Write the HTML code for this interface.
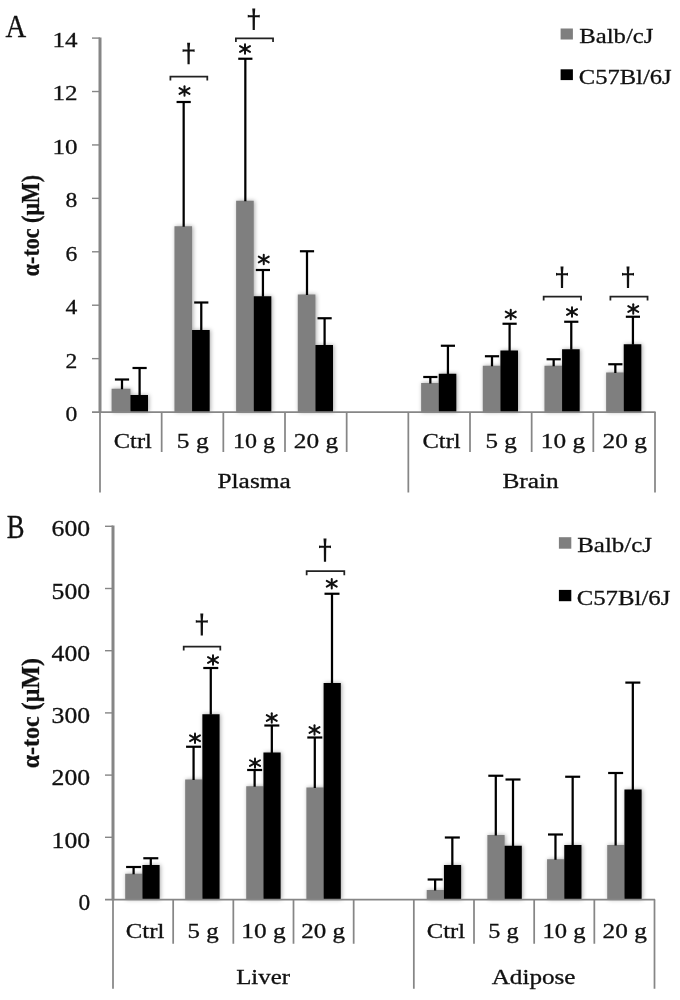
<!DOCTYPE html>
<html><head><meta charset="utf-8"><title>chart</title>
<style>
html,body{margin:0;padding:0;background:#fff;}
body{width:680px;height:1000px;overflow:hidden;}
svg{display:block;font-family:"Liberation Serif",serif;will-change:transform;transform:translateZ(0);}
.bars{filter:drop-shadow(1.4px 0.8px 2.1px rgba(0,0,0,0.34));}
</style></head><body>
<svg width="680" height="1000" viewBox="0 0 680 1000">
<rect x="0" y="0" width="680" height="1000" fill="#ffffff"/>
<g class="bars">
<rect x="111.6" y="388.75" width="18.8" height="23.3" fill="#7f7f7f"/>
<rect x="130.4" y="395" width="17.6" height="17.05" fill="#000000"/>
<rect x="174.47" y="226.25" width="17.6" height="185.8" fill="#7f7f7f"/>
<rect x="192.07" y="330" width="17.6" height="82.05" fill="#000000"/>
<rect x="236.13" y="200.75" width="17.6" height="211.3" fill="#7f7f7f"/>
<rect x="253.73" y="296.25" width="17.6" height="115.8" fill="#000000"/>
<rect x="297.8" y="294.5" width="17.6" height="117.55" fill="#7f7f7f"/>
<rect x="315.4" y="345" width="17.6" height="67.05" fill="#000000"/>
<rect x="421.13" y="383" width="17.6" height="29.05" fill="#7f7f7f"/>
<rect x="438.73" y="373.75" width="17.6" height="38.3" fill="#000000"/>
<rect x="482.8" y="365.75" width="17.6" height="46.3" fill="#7f7f7f"/>
<rect x="500.4" y="350.5" width="17.6" height="61.55" fill="#000000"/>
<rect x="544.47" y="365.75" width="17.6" height="46.3" fill="#7f7f7f"/>
<rect x="562.07" y="349.25" width="17.6" height="62.8" fill="#000000"/>
<rect x="606.13" y="372.5" width="17.6" height="39.55" fill="#7f7f7f"/>
<rect x="623.73" y="344.25" width="17.6" height="67.8" fill="#000000"/>
</g>
<line x1="122" y1="379.5" x2="122" y2="389.25" stroke="#000000" stroke-width="2.25" stroke-linecap="butt"/>
<line x1="114.9" y1="379.5" x2="129.1" y2="379.5" stroke="#000000" stroke-width="2.2" stroke-linecap="butt"/>
<line x1="139.6" y1="368" x2="139.6" y2="395.5" stroke="#000000" stroke-width="2.25" stroke-linecap="butt"/>
<line x1="132.5" y1="368" x2="146.7" y2="368" stroke="#000000" stroke-width="2.2" stroke-linecap="butt"/>
<line x1="183.67" y1="102" x2="183.67" y2="226.75" stroke="#000000" stroke-width="2.25" stroke-linecap="butt"/>
<line x1="176.57" y1="102" x2="190.77" y2="102" stroke="#000000" stroke-width="2.2" stroke-linecap="butt"/>
<line x1="201.27" y1="302.5" x2="201.27" y2="330.5" stroke="#000000" stroke-width="2.25" stroke-linecap="butt"/>
<line x1="194.17" y1="302.5" x2="208.37" y2="302.5" stroke="#000000" stroke-width="2.2" stroke-linecap="butt"/>
<line x1="245.33" y1="58.75" x2="245.33" y2="201.25" stroke="#000000" stroke-width="2.25" stroke-linecap="butt"/>
<line x1="238.23" y1="58.75" x2="252.43" y2="58.75" stroke="#000000" stroke-width="2.2" stroke-linecap="butt"/>
<line x1="262.93" y1="270" x2="262.93" y2="296.75" stroke="#000000" stroke-width="2.25" stroke-linecap="butt"/>
<line x1="255.83" y1="270" x2="270.03" y2="270" stroke="#000000" stroke-width="2.2" stroke-linecap="butt"/>
<line x1="307" y1="251.25" x2="307" y2="295" stroke="#000000" stroke-width="2.25" stroke-linecap="butt"/>
<line x1="299.9" y1="251.25" x2="314.1" y2="251.25" stroke="#000000" stroke-width="2.2" stroke-linecap="butt"/>
<line x1="324.6" y1="318.25" x2="324.6" y2="345.5" stroke="#000000" stroke-width="2.25" stroke-linecap="butt"/>
<line x1="317.5" y1="318.25" x2="331.7" y2="318.25" stroke="#000000" stroke-width="2.2" stroke-linecap="butt"/>
<line x1="430.33" y1="377" x2="430.33" y2="383.5" stroke="#000000" stroke-width="2.25" stroke-linecap="butt"/>
<line x1="423.23" y1="377" x2="437.43" y2="377" stroke="#000000" stroke-width="2.2" stroke-linecap="butt"/>
<line x1="447.93" y1="345.75" x2="447.93" y2="374.25" stroke="#000000" stroke-width="2.25" stroke-linecap="butt"/>
<line x1="440.83" y1="345.75" x2="455.03" y2="345.75" stroke="#000000" stroke-width="2.2" stroke-linecap="butt"/>
<line x1="492" y1="356.25" x2="492" y2="366.25" stroke="#000000" stroke-width="2.25" stroke-linecap="butt"/>
<line x1="484.9" y1="356.25" x2="499.1" y2="356.25" stroke="#000000" stroke-width="2.2" stroke-linecap="butt"/>
<line x1="509.6" y1="323.75" x2="509.6" y2="351" stroke="#000000" stroke-width="2.25" stroke-linecap="butt"/>
<line x1="502.5" y1="323.75" x2="516.7" y2="323.75" stroke="#000000" stroke-width="2.2" stroke-linecap="butt"/>
<line x1="553.67" y1="359.25" x2="553.67" y2="366.25" stroke="#000000" stroke-width="2.25" stroke-linecap="butt"/>
<line x1="546.57" y1="359.25" x2="560.77" y2="359.25" stroke="#000000" stroke-width="2.2" stroke-linecap="butt"/>
<line x1="571.27" y1="321.75" x2="571.27" y2="349.75" stroke="#000000" stroke-width="2.25" stroke-linecap="butt"/>
<line x1="564.17" y1="321.75" x2="578.37" y2="321.75" stroke="#000000" stroke-width="2.2" stroke-linecap="butt"/>
<line x1="615.33" y1="364.25" x2="615.33" y2="373" stroke="#000000" stroke-width="2.25" stroke-linecap="butt"/>
<line x1="608.23" y1="364.25" x2="622.43" y2="364.25" stroke="#000000" stroke-width="2.2" stroke-linecap="butt"/>
<line x1="632.93" y1="316.75" x2="632.93" y2="344.75" stroke="#000000" stroke-width="2.25" stroke-linecap="butt"/>
<line x1="625.83" y1="316.75" x2="640.03" y2="316.75" stroke="#000000" stroke-width="2.2" stroke-linecap="butt"/>
<line x1="100" y1="37.4" x2="100" y2="412.75" stroke="#868686" stroke-width="3" stroke-linecap="butt"/>
<line x1="100" y1="412.05" x2="100" y2="492.5" stroke="#868686" stroke-width="1.75" stroke-linecap="butt"/>
<line x1="92" y1="412.05" x2="655.6" y2="412.05" stroke="#868686" stroke-width="1.75" stroke-linecap="butt"/>
<line x1="92" y1="358.63" x2="100" y2="358.63" stroke="#868686" stroke-width="1.4" stroke-linecap="butt"/>
<line x1="92" y1="305.21" x2="100" y2="305.21" stroke="#868686" stroke-width="1.4" stroke-linecap="butt"/>
<line x1="92" y1="251.79" x2="100" y2="251.79" stroke="#868686" stroke-width="1.4" stroke-linecap="butt"/>
<line x1="92" y1="198.36" x2="100" y2="198.36" stroke="#868686" stroke-width="1.4" stroke-linecap="butt"/>
<line x1="92" y1="144.94" x2="100" y2="144.94" stroke="#868686" stroke-width="1.4" stroke-linecap="butt"/>
<line x1="92" y1="91.52" x2="100" y2="91.52" stroke="#868686" stroke-width="1.4" stroke-linecap="butt"/>
<line x1="92" y1="38.1" x2="100" y2="38.1" stroke="#868686" stroke-width="1.4" stroke-linecap="butt"/>
<line x1="161.67" y1="412.05" x2="161.67" y2="452" stroke="#868686" stroke-width="1.75" stroke-linecap="butt"/>
<line x1="223.33" y1="412.05" x2="223.33" y2="452" stroke="#868686" stroke-width="1.75" stroke-linecap="butt"/>
<line x1="285" y1="412.05" x2="285" y2="452" stroke="#868686" stroke-width="1.75" stroke-linecap="butt"/>
<line x1="346.67" y1="412.05" x2="346.67" y2="452" stroke="#868686" stroke-width="1.75" stroke-linecap="butt"/>
<line x1="408.33" y1="412.05" x2="408.33" y2="492.5" stroke="#868686" stroke-width="1.75" stroke-linecap="butt"/>
<line x1="470" y1="412.05" x2="470" y2="452" stroke="#868686" stroke-width="1.75" stroke-linecap="butt"/>
<line x1="531.67" y1="412.05" x2="531.67" y2="452" stroke="#868686" stroke-width="1.75" stroke-linecap="butt"/>
<line x1="593.33" y1="412.05" x2="593.33" y2="452" stroke="#868686" stroke-width="1.75" stroke-linecap="butt"/>
<line x1="655" y1="412.05" x2="655" y2="492.5" stroke="#868686" stroke-width="1.75" stroke-linecap="butt"/>
<text x="65.6" y="421.1" font-size="21.5" fill="#111" stroke="#111" stroke-width="0.3" textLength="11.8" lengthAdjust="spacingAndGlyphs">0</text>
<text x="65.6" y="367.6" font-size="21.5" fill="#111" stroke="#111" stroke-width="0.3" textLength="11.8" lengthAdjust="spacingAndGlyphs">2</text>
<text x="65.6" y="314.1" font-size="21.5" fill="#111" stroke="#111" stroke-width="0.3" textLength="11.8" lengthAdjust="spacingAndGlyphs">4</text>
<text x="65.6" y="260.6" font-size="21.5" fill="#111" stroke="#111" stroke-width="0.3" textLength="11.8" lengthAdjust="spacingAndGlyphs">6</text>
<text x="65.6" y="207.1" font-size="21.5" fill="#111" stroke="#111" stroke-width="0.3" textLength="11.8" lengthAdjust="spacingAndGlyphs">8</text>
<text x="52.4" y="153.6" font-size="21.5" fill="#111" stroke="#111" stroke-width="0.3" textLength="25" lengthAdjust="spacingAndGlyphs">10</text>
<text x="52.4" y="100.1" font-size="21.5" fill="#111" stroke="#111" stroke-width="0.3" textLength="25" lengthAdjust="spacingAndGlyphs">12</text>
<text x="52.4" y="46.6" font-size="21.5" fill="#111" stroke="#111" stroke-width="0.3" textLength="25" lengthAdjust="spacingAndGlyphs">14</text>
<text x="113.8" y="447.5" font-size="20.5" fill="#111" stroke="#111" stroke-width="0.3" textLength="38.05" lengthAdjust="spacingAndGlyphs">Ctrl</text>
<text x="176.8" y="447.5" font-size="20.5" fill="#111" stroke="#111" stroke-width="0.3" textLength="31.8" lengthAdjust="spacingAndGlyphs">5 g</text>
<text x="233.05" y="447.5" font-size="20.5" fill="#111" stroke="#111" stroke-width="0.3" textLength="42.05" lengthAdjust="spacingAndGlyphs">10 g</text>
<text x="293.8" y="447.5" font-size="20.5" fill="#111" stroke="#111" stroke-width="0.3" textLength="44.3" lengthAdjust="spacingAndGlyphs">20 g</text>
<text x="422.55" y="447.5" font-size="20.5" fill="#111" stroke="#111" stroke-width="0.3" textLength="38.05" lengthAdjust="spacingAndGlyphs">Ctrl</text>
<text x="485.55" y="447.5" font-size="20.5" fill="#111" stroke="#111" stroke-width="0.3" textLength="31.3" lengthAdjust="spacingAndGlyphs">5 g</text>
<text x="540.8" y="447.5" font-size="20.5" fill="#111" stroke="#111" stroke-width="0.3" textLength="44.3" lengthAdjust="spacingAndGlyphs">10 g</text>
<text x="602.55" y="447.5" font-size="20.5" fill="#111" stroke="#111" stroke-width="0.3" textLength="44.3" lengthAdjust="spacingAndGlyphs">20 g</text>
<text x="217.45" y="487.5" font-size="20.5" fill="#111" stroke="#111" stroke-width="0.3" textLength="73.35" lengthAdjust="spacingAndGlyphs">Plasma</text>
<text x="502.45" y="487.5" font-size="20.5" fill="#111" stroke="#111" stroke-width="0.3" textLength="56.35" lengthAdjust="spacingAndGlyphs">Brain</text>
<text x="5.6" y="37" font-size="31" fill="#111" stroke="#111" stroke-width="0.3" textLength="20.7" lengthAdjust="spacingAndGlyphs">A</text>
<text transform="translate(38.8,276.2) rotate(-90)" x="0" y="0" font-size="24.5" font-weight="bold" fill="#111" stroke="#111" stroke-width="0.3" textLength="101.2" lengthAdjust="spacingAndGlyphs">α-toc (μM)</text>
<rect x="560.6" y="28.5" width="12.3" height="11" fill="#7f7f7f"/>
<rect x="560.6" y="69.3" width="12.3" height="10.8" fill="#000000"/>
<text x="579.2" y="42.5" font-size="22" fill="#111" stroke="#111" stroke-width="0.3" textLength="74.2" lengthAdjust="spacingAndGlyphs">Balb/cJ</text>
<text x="578.8" y="83.7" font-size="22" fill="#111" stroke="#111" stroke-width="0.3" textLength="92.8" lengthAdjust="spacingAndGlyphs">C57Bl/6J</text>
<line x1="184.5" y1="86.3" x2="184.5" y2="95.7" stroke="#111" stroke-width="2" stroke-linecap="round"/>
<line x1="179.5" y1="88.15" x2="189.5" y2="93.85" stroke="#111" stroke-width="2" stroke-linecap="round"/>
<line x1="189.5" y1="88.15" x2="179.5" y2="93.85" stroke="#111" stroke-width="2" stroke-linecap="round"/>
<line x1="245" y1="44.3" x2="245" y2="53.7" stroke="#111" stroke-width="2" stroke-linecap="round"/>
<line x1="240" y1="46.15" x2="250" y2="51.85" stroke="#111" stroke-width="2" stroke-linecap="round"/>
<line x1="250" y1="46.15" x2="240" y2="51.85" stroke="#111" stroke-width="2" stroke-linecap="round"/>
<line x1="263.75" y1="254.8" x2="263.75" y2="264.2" stroke="#111" stroke-width="2" stroke-linecap="round"/>
<line x1="258.75" y1="256.65" x2="268.75" y2="262.35" stroke="#111" stroke-width="2" stroke-linecap="round"/>
<line x1="268.75" y1="256.65" x2="258.75" y2="262.35" stroke="#111" stroke-width="2" stroke-linecap="round"/>
<line x1="510.75" y1="309.8" x2="510.75" y2="319.2" stroke="#111" stroke-width="2" stroke-linecap="round"/>
<line x1="505.75" y1="311.65" x2="515.75" y2="317.35" stroke="#111" stroke-width="2" stroke-linecap="round"/>
<line x1="515.75" y1="311.65" x2="505.75" y2="317.35" stroke="#111" stroke-width="2" stroke-linecap="round"/>
<line x1="572" y1="307.3" x2="572" y2="316.7" stroke="#111" stroke-width="2" stroke-linecap="round"/>
<line x1="567" y1="309.15" x2="577" y2="314.85" stroke="#111" stroke-width="2" stroke-linecap="round"/>
<line x1="577" y1="309.15" x2="567" y2="314.85" stroke="#111" stroke-width="2" stroke-linecap="round"/>
<line x1="633.25" y1="304.3" x2="633.25" y2="313.7" stroke="#111" stroke-width="2" stroke-linecap="round"/>
<line x1="628.25" y1="306.15" x2="638.25" y2="311.85" stroke="#111" stroke-width="2" stroke-linecap="round"/>
<line x1="638.25" y1="306.15" x2="628.25" y2="311.85" stroke="#111" stroke-width="2" stroke-linecap="round"/>
<polyline points="170.4,80.6 170.4,76.55 207.3,76.55 207.3,80.6" fill="none" stroke="#222" stroke-width="1.75"/>
<polyline points="235.9,42.1 235.9,38.3 273.05,38.3 273.05,42.1" fill="none" stroke="#222" stroke-width="1.75"/>
<polyline points="543.65,300.6 543.65,296.55 581.05,296.55 581.05,300.6" fill="none" stroke="#222" stroke-width="1.75"/>
<polyline points="610.4,300.6 610.4,296.55 647.55,296.55 647.55,300.6" fill="none" stroke="#222" stroke-width="1.75"/>
<polygon points="187.1,42.85 190.1,42.85 189.6,49.55 193.1,49.55 194.6,49.15 194.6,51.95 193.1,51.55 189.8,51.55 189.7,64.25 187.5,64.25 187.4,51.55 184.1,51.55 182.6,51.95 182.6,49.15 184.1,49.55 187.6,49.55" fill="#111"/>
<polygon points="252.25,8.5 255.25,8.5 254.75,15.2 258.25,15.2 259.75,14.8 259.75,17.6 258.25,17.2 254.95,17.2 254.85,29.9 252.65,29.9 252.55,17.2 249.25,17.2 247.75,17.6 247.75,14.8 249.25,15.2 252.75,15.2" fill="#111"/>
<polygon points="560.5,266.6 563.5,266.6 563,273.27 566.5,273.27 568,272.87 568,275.67 566.5,275.27 563.2,275.27 563.1,287.9 560.9,287.9 560.8,275.27 557.5,275.27 556,275.67 556,272.87 557.5,273.27 561,273.27" fill="#111"/>
<polygon points="626.5,266.6 629.5,266.6 629,273.27 632.5,273.27 634,272.87 634,275.67 632.5,275.27 629.2,275.27 629.1,287.9 626.9,287.9 626.8,275.27 623.5,275.27 622,275.67 622,272.87 623.5,273.27 627,273.27" fill="#111"/>
<g class="bars">
<rect x="125.2" y="873.75" width="17.2" height="25.75" fill="#7f7f7f"/>
<rect x="142.4" y="865" width="17.2" height="34.5" fill="#000000"/>
<rect x="185.17" y="779.5" width="17.2" height="120" fill="#7f7f7f"/>
<rect x="202.37" y="714.25" width="17.2" height="185.25" fill="#000000"/>
<rect x="246.23" y="786.25" width="17.2" height="113.25" fill="#7f7f7f"/>
<rect x="263.43" y="752.5" width="17.2" height="147" fill="#000000"/>
<rect x="306.4" y="787.5" width="17.2" height="112" fill="#7f7f7f"/>
<rect x="323.6" y="683" width="17.2" height="216.5" fill="#000000"/>
<rect x="426.73" y="890" width="17.2" height="9.5" fill="#7f7f7f"/>
<rect x="443.93" y="865" width="17.2" height="34.5" fill="#000000"/>
<rect x="487.4" y="835" width="17.2" height="64.5" fill="#7f7f7f"/>
<rect x="504.6" y="845.75" width="17.2" height="53.75" fill="#000000"/>
<rect x="547.07" y="859.25" width="17.2" height="40.25" fill="#7f7f7f"/>
<rect x="564.27" y="845" width="17.2" height="54.5" fill="#000000"/>
<rect x="607.23" y="845" width="17.2" height="54.5" fill="#7f7f7f"/>
<rect x="624.43" y="789.5" width="17.2" height="110" fill="#000000"/>
</g>
<line x1="133.6" y1="867" x2="133.6" y2="874.25" stroke="#000000" stroke-width="2.25" stroke-linecap="butt"/>
<line x1="126.1" y1="867" x2="141.1" y2="867" stroke="#000000" stroke-width="2.2" stroke-linecap="butt"/>
<line x1="150.8" y1="858.25" x2="150.8" y2="865.5" stroke="#000000" stroke-width="2.25" stroke-linecap="butt"/>
<line x1="143.3" y1="858.25" x2="158.3" y2="858.25" stroke="#000000" stroke-width="2.2" stroke-linecap="butt"/>
<line x1="193.57" y1="746.75" x2="193.57" y2="780" stroke="#000000" stroke-width="2.25" stroke-linecap="butt"/>
<line x1="186.07" y1="746.75" x2="201.07" y2="746.75" stroke="#000000" stroke-width="2.2" stroke-linecap="butt"/>
<line x1="210.77" y1="668" x2="210.77" y2="714.75" stroke="#000000" stroke-width="2.25" stroke-linecap="butt"/>
<line x1="203.27" y1="668" x2="218.27" y2="668" stroke="#000000" stroke-width="2.2" stroke-linecap="butt"/>
<line x1="254.63" y1="770" x2="254.63" y2="786.75" stroke="#000000" stroke-width="2.25" stroke-linecap="butt"/>
<line x1="247.13" y1="770" x2="262.13" y2="770" stroke="#000000" stroke-width="2.2" stroke-linecap="butt"/>
<line x1="271.83" y1="725.5" x2="271.83" y2="753" stroke="#000000" stroke-width="2.25" stroke-linecap="butt"/>
<line x1="264.33" y1="725.5" x2="279.33" y2="725.5" stroke="#000000" stroke-width="2.2" stroke-linecap="butt"/>
<line x1="314.8" y1="737.5" x2="314.8" y2="788" stroke="#000000" stroke-width="2.25" stroke-linecap="butt"/>
<line x1="307.3" y1="737.5" x2="322.3" y2="737.5" stroke="#000000" stroke-width="2.2" stroke-linecap="butt"/>
<line x1="332" y1="593.75" x2="332" y2="683.5" stroke="#000000" stroke-width="2.25" stroke-linecap="butt"/>
<line x1="324.5" y1="593.75" x2="339.5" y2="593.75" stroke="#000000" stroke-width="2.2" stroke-linecap="butt"/>
<line x1="435.13" y1="879.5" x2="435.13" y2="890.5" stroke="#000000" stroke-width="2.25" stroke-linecap="butt"/>
<line x1="427.63" y1="879.5" x2="442.63" y2="879.5" stroke="#000000" stroke-width="2.2" stroke-linecap="butt"/>
<line x1="452.33" y1="837.5" x2="452.33" y2="865.5" stroke="#000000" stroke-width="2.25" stroke-linecap="butt"/>
<line x1="444.83" y1="837.5" x2="459.83" y2="837.5" stroke="#000000" stroke-width="2.2" stroke-linecap="butt"/>
<line x1="495.8" y1="775.75" x2="495.8" y2="835.5" stroke="#000000" stroke-width="2.25" stroke-linecap="butt"/>
<line x1="488.3" y1="775.75" x2="503.3" y2="775.75" stroke="#000000" stroke-width="2.2" stroke-linecap="butt"/>
<line x1="513" y1="779.5" x2="513" y2="846.25" stroke="#000000" stroke-width="2.25" stroke-linecap="butt"/>
<line x1="505.5" y1="779.5" x2="520.5" y2="779.5" stroke="#000000" stroke-width="2.2" stroke-linecap="butt"/>
<line x1="555.47" y1="834.5" x2="555.47" y2="859.75" stroke="#000000" stroke-width="2.25" stroke-linecap="butt"/>
<line x1="547.97" y1="834.5" x2="562.97" y2="834.5" stroke="#000000" stroke-width="2.2" stroke-linecap="butt"/>
<line x1="572.67" y1="776.75" x2="572.67" y2="845.5" stroke="#000000" stroke-width="2.25" stroke-linecap="butt"/>
<line x1="565.17" y1="776.75" x2="580.17" y2="776.75" stroke="#000000" stroke-width="2.2" stroke-linecap="butt"/>
<line x1="615.63" y1="773" x2="615.63" y2="845.5" stroke="#000000" stroke-width="2.25" stroke-linecap="butt"/>
<line x1="608.13" y1="773" x2="623.13" y2="773" stroke="#000000" stroke-width="2.2" stroke-linecap="butt"/>
<line x1="632.83" y1="682.6" x2="632.83" y2="790" stroke="#000000" stroke-width="2.25" stroke-linecap="butt"/>
<line x1="625.33" y1="682.6" x2="640.33" y2="682.6" stroke="#000000" stroke-width="2.2" stroke-linecap="butt"/>
<line x1="113" y1="525.6" x2="113" y2="900.2" stroke="#868686" stroke-width="3" stroke-linecap="butt"/>
<line x1="113" y1="899.5" x2="113" y2="988.75" stroke="#868686" stroke-width="1.75" stroke-linecap="butt"/>
<line x1="105" y1="899.5" x2="655.1" y2="899.5" stroke="#868686" stroke-width="1.75" stroke-linecap="butt"/>
<line x1="105" y1="837.3" x2="113" y2="837.3" stroke="#868686" stroke-width="1.4" stroke-linecap="butt"/>
<line x1="105" y1="775.1" x2="113" y2="775.1" stroke="#868686" stroke-width="1.4" stroke-linecap="butt"/>
<line x1="105" y1="712.9" x2="113" y2="712.9" stroke="#868686" stroke-width="1.4" stroke-linecap="butt"/>
<line x1="105" y1="650.7" x2="113" y2="650.7" stroke="#868686" stroke-width="1.4" stroke-linecap="butt"/>
<line x1="105" y1="588.5" x2="113" y2="588.5" stroke="#868686" stroke-width="1.4" stroke-linecap="butt"/>
<line x1="105" y1="526.3" x2="113" y2="526.3" stroke="#868686" stroke-width="1.4" stroke-linecap="butt"/>
<line x1="173.17" y1="899.5" x2="173.17" y2="943.75" stroke="#868686" stroke-width="1.75" stroke-linecap="butt"/>
<line x1="233.33" y1="899.5" x2="233.33" y2="943.75" stroke="#868686" stroke-width="1.75" stroke-linecap="butt"/>
<line x1="293.5" y1="899.5" x2="293.5" y2="943.75" stroke="#868686" stroke-width="1.75" stroke-linecap="butt"/>
<line x1="353.67" y1="899.5" x2="353.67" y2="943.75" stroke="#868686" stroke-width="1.75" stroke-linecap="butt"/>
<line x1="413.83" y1="899.5" x2="413.83" y2="988.75" stroke="#868686" stroke-width="1.75" stroke-linecap="butt"/>
<line x1="474" y1="899.5" x2="474" y2="943.75" stroke="#868686" stroke-width="1.75" stroke-linecap="butt"/>
<line x1="534.17" y1="899.5" x2="534.17" y2="943.75" stroke="#868686" stroke-width="1.75" stroke-linecap="butt"/>
<line x1="594.33" y1="899.5" x2="594.33" y2="943.75" stroke="#868686" stroke-width="1.75" stroke-linecap="butt"/>
<line x1="654.5" y1="899.5" x2="654.5" y2="988.75" stroke="#868686" stroke-width="1.75" stroke-linecap="butt"/>
<text x="78.5" y="910" font-size="23.2" fill="#111" stroke="#111" stroke-width="0.3" textLength="11.7" lengthAdjust="spacingAndGlyphs">0</text>
<text x="51.6" y="847.7" font-size="23.2" fill="#111" stroke="#111" stroke-width="0.3" textLength="38.6" lengthAdjust="spacingAndGlyphs">100</text>
<text x="51.6" y="785.4" font-size="23.2" fill="#111" stroke="#111" stroke-width="0.3" textLength="38.6" lengthAdjust="spacingAndGlyphs">200</text>
<text x="51.6" y="723.1" font-size="23.2" fill="#111" stroke="#111" stroke-width="0.3" textLength="38.6" lengthAdjust="spacingAndGlyphs">300</text>
<text x="51.6" y="660.8" font-size="23.2" fill="#111" stroke="#111" stroke-width="0.3" textLength="38.6" lengthAdjust="spacingAndGlyphs">400</text>
<text x="51.6" y="598.5" font-size="23.2" fill="#111" stroke="#111" stroke-width="0.3" textLength="38.6" lengthAdjust="spacingAndGlyphs">500</text>
<text x="51.6" y="536.2" font-size="23.2" fill="#111" stroke="#111" stroke-width="0.3" textLength="38.6" lengthAdjust="spacingAndGlyphs">600</text>
<text x="125.8" y="937.5" font-size="20.5" fill="#111" stroke="#111" stroke-width="0.3" textLength="38.55" lengthAdjust="spacingAndGlyphs">Ctrl</text>
<text x="187.55" y="937.5" font-size="20.5" fill="#111" stroke="#111" stroke-width="0.3" textLength="31.05" lengthAdjust="spacingAndGlyphs">5 g</text>
<text x="241.3" y="937.5" font-size="20.5" fill="#111" stroke="#111" stroke-width="0.3" textLength="44.3" lengthAdjust="spacingAndGlyphs">10 g</text>
<text x="301.3" y="937.5" font-size="20.5" fill="#111" stroke="#111" stroke-width="0.3" textLength="43.8" lengthAdjust="spacingAndGlyphs">20 g</text>
<text x="426.8" y="937.5" font-size="20.5" fill="#111" stroke="#111" stroke-width="0.3" textLength="38.3" lengthAdjust="spacingAndGlyphs">Ctrl</text>
<text x="488.3" y="937.5" font-size="20.5" fill="#111" stroke="#111" stroke-width="0.3" textLength="30.3" lengthAdjust="spacingAndGlyphs">5 g</text>
<text x="542.55" y="937.5" font-size="20.5" fill="#111" stroke="#111" stroke-width="0.3" textLength="43.05" lengthAdjust="spacingAndGlyphs">10 g</text>
<text x="602.55" y="937.5" font-size="20.5" fill="#111" stroke="#111" stroke-width="0.3" textLength="44.3" lengthAdjust="spacingAndGlyphs">20 g</text>
<text x="236.2" y="983.75" font-size="20.5" fill="#111" stroke="#111" stroke-width="0.3" textLength="53.85" lengthAdjust="spacingAndGlyphs">Liver</text>
<text x="491.7" y="983.75" font-size="20.5" fill="#111" stroke="#111" stroke-width="0.3" textLength="83.85" lengthAdjust="spacingAndGlyphs">Adipose</text>
<text x="6.8" y="537.6" font-size="33.5" fill="#111" stroke="#111" stroke-width="0.3" textLength="17.8" lengthAdjust="spacingAndGlyphs">B</text>
<text transform="translate(38.5,768.3) rotate(-90)" x="0" y="0" font-size="25.5" font-weight="bold" fill="#111" stroke="#111" stroke-width="0.3" textLength="110.3" lengthAdjust="spacingAndGlyphs">α-toc (μM)</text>
<rect x="558.9" y="537.2" width="12.4" height="11.5" fill="#7f7f7f"/>
<rect x="558.9" y="589.9" width="12.4" height="11.3" fill="#000000"/>
<text x="577.2" y="552.2" font-size="22" fill="#111" stroke="#111" stroke-width="0.3" textLength="74.9" lengthAdjust="spacingAndGlyphs">Balb/cJ</text>
<text x="576.7" y="604.7" font-size="22" fill="#111" stroke="#111" stroke-width="0.3" textLength="93.7" lengthAdjust="spacingAndGlyphs">C57Bl/6J</text>
<line x1="195" y1="733.55" x2="195" y2="742.95" stroke="#111" stroke-width="2" stroke-linecap="round"/>
<line x1="190" y1="735.4" x2="200" y2="741.1" stroke="#111" stroke-width="2" stroke-linecap="round"/>
<line x1="200" y1="735.4" x2="190" y2="741.1" stroke="#111" stroke-width="2" stroke-linecap="round"/>
<line x1="213" y1="655.3" x2="213" y2="664.7" stroke="#111" stroke-width="2" stroke-linecap="round"/>
<line x1="208" y1="657.15" x2="218" y2="662.85" stroke="#111" stroke-width="2" stroke-linecap="round"/>
<line x1="218" y1="657.15" x2="208" y2="662.85" stroke="#111" stroke-width="2" stroke-linecap="round"/>
<line x1="255" y1="758.4" x2="255" y2="767.8" stroke="#111" stroke-width="2" stroke-linecap="round"/>
<line x1="250" y1="760.25" x2="260" y2="765.95" stroke="#111" stroke-width="2" stroke-linecap="round"/>
<line x1="260" y1="760.25" x2="250" y2="765.95" stroke="#111" stroke-width="2" stroke-linecap="round"/>
<line x1="271.75" y1="713.3" x2="271.75" y2="722.7" stroke="#111" stroke-width="2" stroke-linecap="round"/>
<line x1="266.75" y1="715.15" x2="276.75" y2="720.85" stroke="#111" stroke-width="2" stroke-linecap="round"/>
<line x1="276.75" y1="715.15" x2="266.75" y2="720.85" stroke="#111" stroke-width="2" stroke-linecap="round"/>
<line x1="314.5" y1="725.3" x2="314.5" y2="734.7" stroke="#111" stroke-width="2" stroke-linecap="round"/>
<line x1="309.5" y1="727.15" x2="319.5" y2="732.85" stroke="#111" stroke-width="2" stroke-linecap="round"/>
<line x1="319.5" y1="727.15" x2="309.5" y2="732.85" stroke="#111" stroke-width="2" stroke-linecap="round"/>
<line x1="331.75" y1="579.05" x2="331.75" y2="588.45" stroke="#111" stroke-width="2" stroke-linecap="round"/>
<line x1="326.75" y1="580.9" x2="336.75" y2="586.6" stroke="#111" stroke-width="2" stroke-linecap="round"/>
<line x1="336.75" y1="580.9" x2="326.75" y2="586.6" stroke="#111" stroke-width="2" stroke-linecap="round"/>
<polyline points="183.7,650.4 183.7,646.6 220.3,646.6 220.3,650.4" fill="none" stroke="#222" stroke-width="1.75"/>
<polyline points="306.65,575.2 306.65,571.2 344.3,571.2 344.3,575.2" fill="none" stroke="#222" stroke-width="1.75"/>
<polygon points="200.3,613.45 203.3,613.45 202.8,620.42 206.3,620.42 207.8,620.02 207.8,622.82 206.3,622.42 203,622.42 202.9,635.6 200.7,635.6 200.6,622.42 197.3,622.42 195.8,622.82 195.8,620.02 197.3,620.42 200.8,620.42" fill="#111"/>
<polygon points="323.5,538.45 326.5,538.45 326,545.8 329.5,545.8 331,545.4 331,548.2 329.5,547.8 326.2,547.8 326.1,561.65 323.9,561.65 323.8,547.8 320.5,547.8 319,548.2 319,545.4 320.5,545.8 324,545.8" fill="#111"/>
</svg>
</body></html>
